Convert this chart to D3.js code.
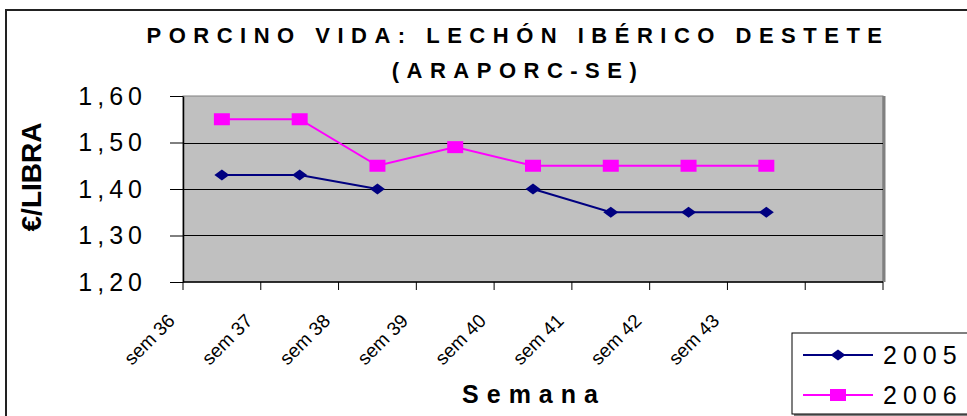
<!DOCTYPE html>
<html>
<head>
<meta charset="utf-8">
<script src="https://cdn.jsdelivr.net/npm/d3@7"></script>
<style>
  html, body { margin: 0; padding: 0; background: #fff; }
  svg { display: block; font-family: "Liberation Sans", Arial, sans-serif; }
</style>
</head>
<body>
<script>
// data
const weeks = ["sem 36", "sem 37", "sem 38", "sem 39", "sem 40", "sem 41", "sem 42", "sem 43"];
const v2005 = [1.43, 1.43, 1.40, null, 1.40, 1.35, 1.35, 1.35];
const v2006 = [1.55, 1.55, 1.45, 1.49, 1.45, 1.45, 1.45, 1.45];
const yTicks = [1.2, 1.3, 1.4, 1.5, 1.6];
const seriesNames = ["2005", "2006"];

const WIDTH = 967, HEIGHT = 416;
const PLOT = { left: 183, top: 96, right: 883, bottom: 282 };

const svg = d3.select("body").append("svg")
  .attr("width", WIDTH).attr("height", HEIGHT)
  .attr("xmlns", "http://www.w3.org/2000/svg");

// outer chart border (runs off the right/bottom of the picture)
svg.append("rect")
  .attr("x", 6).attr("y", 10).attr("width", 1000).attr("height", 500)
  .attr("fill", "#fff").attr("stroke", "#222").attr("stroke-width", 2);

// Excel left one empty category at the end
const slotCount = weeks.length + 1;
const x = d3.scaleBand().domain(d3.range(slotCount)).range([PLOT.left, PLOT.right]);
const y = d3.scaleLinear().domain([1.2, 1.6]).range([PLOT.bottom, PLOT.top]);
const cx = i => x(i) + x.bandwidth() / 2;

// ---- plot area -------------------------
svg.append("rect")
  .attr("x", PLOT.left).attr("y", PLOT.top)
  .attr("width", PLOT.right - PLOT.left).attr("height", PLOT.bottom - PLOT.top)
  .attr("fill", "#c0c0c0").attr("stroke", "#808080").attr("stroke-width", 1);
// right shadow edge
svg.append("line")
  .attr("x1", PLOT.right + 1).attr("x2", PLOT.right + 1)
  .attr("y1", PLOT.top).attr("y2", PLOT.bottom)
  .attr("stroke", "#808080").attr("stroke-width", 3);

// gridlines
svg.append("g").selectAll("line")
  .data(yTicks.slice(1, -1))
  .join("line")
  .attr("x1", PLOT.left).attr("x2", PLOT.right)
  .attr("y1", d => Math.round(y(d)) + 0.5).attr("y2", d => Math.round(y(d)) + 0.5)
  .attr("stroke", "#000").attr("stroke-width", 1);

// ---- Y axis -------------------------
const yAxis = svg.append("g")
  .attr("transform", `translate(${PLOT.left},0)`)
  .call(d3.axisLeft(y).tickValues(yTicks).tickSize(13).tickSizeOuter(0).tickPadding(23)
    .tickFormat(d => d3.format(".2f")(d).replace(".", ",")));
yAxis.select(".domain").attr("stroke", "#000").attr("stroke-width", 1.5);
yAxis.selectAll(".tick line").attr("stroke", "#000");
yAxis.selectAll(".tick text")
  .attr("font-family", "Liberation Sans, Arial, sans-serif")
  .attr("font-size", 25).attr("fill", "#000")
  .style("letter-spacing", "5px");

// ---- X axis -------------------------
const xAxis = svg.append("g")
  .attr("transform", `translate(0,${PLOT.bottom})`);
xAxis.append("line")
  .attr("x1", PLOT.left).attr("x2", PLOT.right)
  .attr("stroke", "#000").attr("stroke-width", 1.5);
xAxis.selectAll(".tk")
  .data(d3.range(slotCount + 1))
  .join("line")
  .attr("class", "tk")
  .attr("x1", i => i < slotCount ? x(i) : PLOT.right)
  .attr("x2", i => i < slotCount ? x(i) : PLOT.right)
  .attr("y1", 0).attr("y2", 8)
  .attr("stroke", "#000");
xAxis.selectAll(".lbl")
  .data(weeks)
  .join("text")
  .attr("class", "lbl")
  .attr("transform", (d, i) => `translate(${x(i) - 7},40) rotate(-45)`)
  .attr("text-anchor", "end")
  .attr("font-size", 19)
  .text(d => d);

// ---- series -------------------------
const line = d3.line()
  .defined(d => d != null)
  .x((d, i) => cx(i))
  .y(d => y(d));

const diamond = (w, h) => `M0,${-h / 2}L${w / 2},0L0,${h / 2}L${-w / 2},0Z`;
const square = (w, h) => `M${-w / 2},${-h / 2}h${w}v${h}h${-w}Z`;

const series = [
  { name: seriesNames[0], values: v2005, color: "#000080", marker: diamond(15, 11) },
  { name: seriesNames[1], values: v2006, color: "#ff00ff", marker: square(16, 12) }
];

series.forEach(s => {
  svg.append("path")
    .attr("d", line(s.values))
    .attr("fill", "none").attr("stroke", s.color).attr("stroke-width", 2);
  svg.append("g").selectAll("path")
    .data(s.values.map((v, i) => ({ v, i })).filter(d => d.v != null))
    .join("path")
    .attr("transform", d => `translate(${cx(d.i)},${y(d.v)})`)
    .attr("d", s.marker)
    .attr("fill", s.color);
});

// ---- titles -------------------------
svg.append("text")
  .attr("x", 518).attr("y", 43)
  .attr("text-anchor", "middle")
  .attr("font-size", 22).attr("font-weight", "bold")
  .style("letter-spacing", "7.5px")
  .text("PORCINO VIDA: LECHÓN IBÉRICO DESTETE");
svg.append("text")
  .attr("x", 518).attr("y", 78)
  .attr("text-anchor", "middle")
  .attr("font-size", 22).attr("font-weight", "bold")
  .style("letter-spacing", "7.5px")
  .text("(ARAPORC-SE)");

svg.append("text")
  .attr("transform", "translate(41,177) rotate(-90)")
  .attr("text-anchor", "middle")
  .attr("font-size", 28).attr("font-weight", "bold")
  .text("€/LIBRA");

svg.append("text")
  .attr("x", 534).attr("y", 403)
  .attr("text-anchor", "middle")
  .attr("font-size", 25).attr("font-weight", "bold")
  .style("letter-spacing", "8px")
  .text("Semana");

// ---- legend -------------------------
const legend = svg.append("g").attr("transform", "translate(792,333)");
legend.append("rect")
  .attr("x", 2).attr("y", 2).attr("width", 200).attr("height", 82)
  .attr("fill", "#808080");
legend.append("rect")
  .attr("x", 0).attr("y", 0).attr("width", 200).attr("height", 81)
  .attr("fill", "#fff").attr("stroke", "#000").attr("stroke-width", 1);
const rows = legend.selectAll(".row")
  .data(series)
  .join("g")
  .attr("class", "row")
  .attr("transform", (d, i) => `translate(0,${22 + i * 40})`);
rows.append("line")
  .attr("x1", 11).attr("x2", 81)
  .attr("stroke", d => d.color).attr("stroke-width", 2);
rows.append("path")
  .attr("transform", "translate(46,0)")
  .attr("d", d => d.marker)
  .attr("fill", d => d.color);
rows.append("text")
  .attr("x", 91).attr("dy", "0.36em")
  .attr("font-size", 25)
  .style("letter-spacing", "6px")
  .text(d => d.name);
</script>
</body>
</html>
